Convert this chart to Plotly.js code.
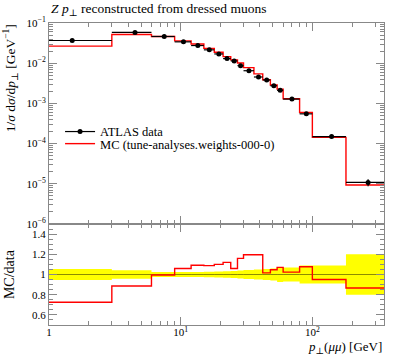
<!DOCTYPE html>
<html>
<head>
<meta charset="utf-8">
<script src="https://cdn.plot.ly/plotly-3.0.1.min.js"></script>
<style>html,body{margin:0;padding:0;background:#fff;}#chart{width:397px;height:358px;}</style>
</head>
<body>
<div id="chart"></div>
<script>
// Bin edges of p_T(mumu) [GeV]
const edges = [0, 3, 6, 9, 12, 15, 18, 21, 24, 27, 30, 36, 42, 48, 54, 60, 80, 100, 180, 350];
// ATLAS data: 1/sigma dsigma/dpT [GeV^-1]
const dataVals = [0.0367, 0.0582, 0.0462, 0.0340, 0.0275, 0.0215, 0.0170, 0.0130, 0.0114, 0.0087,
                  0.0065, 0.00454, 0.00382, 0.00275, 0.00211, 0.00128, 0.00055, 1.5e-4, 1.08e-5];
// relative uncertainty of data
const dataRelErr = [0.055, 0.042, 0.025, 0.025, 0.025, 0.028, 0.03, 0.033, 0.035, 0.04,
                    0.045, 0.05, 0.055, 0.06, 0.075, 0.07, 0.09, 0.09, 0.2];
// MC prediction
const mcVals = [0.0266, 0.0516, 0.0460, 0.0360, 0.0300, 0.0234, 0.0187, 0.01456, 0.01208, 0.01009,
                0.00777, 0.00543, 0.00388, 0.00288, 0.00226, 0.00131, 0.000592, 1.425e-4, 9.35e-6];

const xTickVals = [1, 10, 100];
const xTickText = ['1', '10<sup>1</sup>', '10<sup>2</sup>'];
const yTickVals = [1e-6, 1e-5, 1e-4, 1e-3, 1e-2, 1e-1];
const yTickText = ['10<sup>−6</sup>', '10<sup>−5</sup>', '10<sup>−4</sup>', '10<sup>−3</sup>', '10<sup>−2</sup>', '10<sup>−1</sup>'];
const rTickVals = [0.6, 0.8, 1, 1.2, 1.4];
const rTickText = ['0.6', '0.8', '1', '1.2', '1.4'];

const FONT = 'Liberation Serif, DejaVu Serif, serif';
const AXC = '#888888';
const XLOW = 0.5; // stand-in for the 0 edge on the log axis (outside the visible range)

const edgesPlot = edges.map(e => Math.max(e, XLOW));
const n = dataVals.length;
const mids = [], exPlus = [], exMinus = [], eyAbs = [];
for (let i = 0; i < n; i++) {
  const m = (edges[i] + edges[i + 1]) / 2;
  mids.push(m);
  exPlus.push(edges[i + 1] - m);
  exMinus.push(m - edgesPlot[i]);
  eyAbs.push(dataVals[i] * dataRelErr[i]);
}
const stepY = arr => arr.concat([arr[arr.length - 1]]);
const ratio = mcVals.map((v, i) => v / dataVals[i]);
const bandLo = dataRelErr.map(e => 1 - e);
const bandHi = dataRelErr.map(e => 1 + e);
const ones = dataVals.map(() => 1);

const traces = [
  // ratio band
  {x: edgesPlot, y: stepY(bandLo), xaxis: 'x', yaxis: 'y2', mode: 'lines', line: {shape: 'hv', width: 0, color: '#ffff00'}, showlegend: false, hoverinfo: 'skip'},
  {x: edgesPlot, y: stepY(bandHi), xaxis: 'x', yaxis: 'y2', mode: 'lines', line: {shape: 'hv', width: 0, color: '#ffff00'}, fill: 'tonexty', fillcolor: '#ffff00', showlegend: false, hoverinfo: 'skip'},
  {x: edgesPlot, y: stepY(ones), xaxis: 'x', yaxis: 'y2', mode: 'lines', line: {shape: 'hv', width: 1, color: 'rgba(0,0,0,0.45)'}, showlegend: false},
  {x: edgesPlot, y: stepY(ratio), xaxis: 'x', yaxis: 'y2', mode: 'lines', line: {shape: 'hv', width: 1.4, color: '#ff0000'}, showlegend: false},
  // legend proxy for data
  {x: [null], y: [null], xaxis: 'x2', yaxis: 'y', mode: 'lines+markers', name: 'ATLAS data', legend: 'legend', line: {color: '#000', width: 1.2}, marker: {color: '#000', size: 5}},
  // MC step
  {x: edgesPlot, y: stepY(mcVals), xaxis: 'x2', yaxis: 'y', mode: 'lines', name: 'MC (tune-analyses.weights-000-0)', legend: 'legend2', line: {shape: 'hv', width: 1.4, color: '#ff0000'}},
  // data points
  {x: mids, y: dataVals, xaxis: 'x2', yaxis: 'y', mode: 'markers', showlegend: false, marker: {color: '#000', size: 5},
   error_x: {type: 'data', symmetric: false, array: exPlus, arrayminus: exMinus, width: 0, thickness: 1.2, color: '#000'},
   error_y: {type: 'data', array: eyAbs, width: 0, thickness: 1.2, color: '#000'}}
];

const xcommon = {
  type: 'log', range: [0, Math.log10(350)], tickmode: 'array', tickvals: xTickVals, ticktext: xTickText,
  ticks: 'inside', ticklen: 8, tickcolor: AXC, tickwidth: 1, showline: true, linecolor: AXC, linewidth: 1, mirror: 'ticks',
  minor: {ticks: 'inside', ticklen: 4, tickcolor: AXC, tickmode: 'linear', dtick: 'D1', showgrid: false},
  showgrid: false, zeroline: false, tickfont: {family: FONT, size: 11, color: '#000'}
};

const legFont = {family: FONT, size: 12.5, color: '#000'};

const layout = {
  width: 397, height: 358,
  margin: {l: 49, r: 13, t: 23, b: 33, pad: 0},
  paper_bgcolor: '#fff', plot_bgcolor: '#fff',
  font: {family: FONT, color: '#000'},
  showlegend: true,
  legend: {x: 0.033, y: 0.689, xanchor: 'left', yanchor: 'top', bgcolor: 'rgba(0,0,0,0)', font: legFont, traceorder: 'normal'},
  legend2: {x: 0.033, y: 0.649, xanchor: 'left', yanchor: 'top', bgcolor: 'rgba(0,0,0,0)', font: legFont, traceorder: 'normal'},
  xaxis: Object.assign({}, xcommon, {domain: [0, 1], anchor: 'y2', ticklabelstandoff: -3}),
  xaxis2: Object.assign({}, xcommon, {domain: [0, 1], anchor: 'y', matches: 'x', showticklabels: false}),
  yaxis: {
    type: 'log', range: [-6, -1], domain: [0.3344, 1], anchor: 'x2',
    tickmode: 'array', tickvals: yTickVals, ticktext: yTickText,
    ticks: 'inside', ticklen: 8, tickcolor: AXC, showline: true, linecolor: AXC, mirror: 'ticks',
    minor: {ticks: 'inside', ticklen: 4, tickcolor: AXC, tickmode: 'linear', dtick: 'D1', showgrid: false},
    showgrid: false, zeroline: false, tickfont: {family: FONT, size: 11, color: '#000'}
  },
  yaxis2: {
    range: [0.5, 1.5], domain: [0, 0.3344], anchor: 'x',
    tickmode: 'array', tickvals: rTickVals, ticktext: rTickText,
    ticks: 'inside', ticklen: 8, tickcolor: AXC, showline: true, linecolor: AXC, mirror: 'ticks',
    minor: {ticks: 'inside', ticklen: 4, tickcolor: AXC, tickmode: 'linear', tick0: 0, dtick: 0.05, showgrid: false},
    showgrid: false, zeroline: false, tickfont: {family: FONT, size: 11, color: '#000'}
  },
  annotations: [
    {text: '<i>Z p</i><sub>⊥</sub> reconstructed from dressed muons', xref: 'paper', yref: 'paper', x: 0, y: 1.046, xanchor: 'left', yanchor: 'middle', showarrow: false, font: {family: FONT, size: 13.5, color: '#000'}},
    {text: '1/<i>σ</i> d<i>σ</i>/d<i>p</i><sub>⊥</sub> [GeV<sup>−1</sup>]', xref: 'paper', yref: 'paper', x: -0.116, y: 1.003, xanchor: 'center', yanchor: 'top', textangle: -90, showarrow: false, font: {family: FONT, size: 13.5, color: '#000'}},
    {text: 'MC/data', xref: 'paper', yref: 'paper', x: -0.116, y: 0.169, xanchor: 'center', yanchor: 'middle', textangle: -90, showarrow: false, font: {family: FONT, size: 14, color: '#000'}},
    {text: '<i>p</i><sub>⊥</sub>(<i>μμ</i>) [GeV]', xref: 'paper', yref: 'paper', x: 1, y: -0.073, xanchor: 'right', yanchor: 'middle', showarrow: false, font: {family: FONT, size: 13, color: '#000'}}
  ]
};

Plotly.newPlot('chart', traces, layout, {displayModeBar: false, staticPlot: true});
</script>
</body>
</html>
